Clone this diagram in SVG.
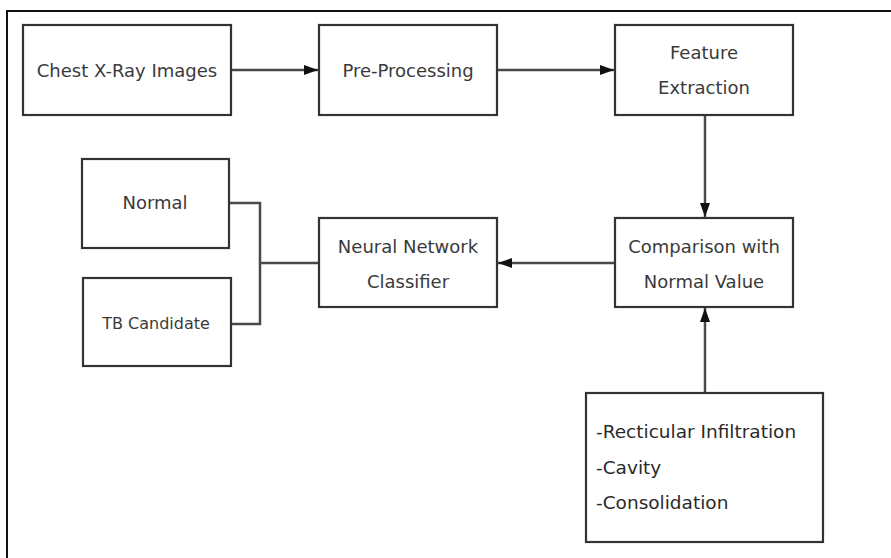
<svg xmlns="http://www.w3.org/2000/svg" width="891" height="558" viewBox="0 0 891 558">
<defs>
<style>
.box{fill:#fff;stroke:#333;stroke-width:2.2}
.t{font-family:"DejaVu Sans","Liberation Sans",sans-serif;font-size:18px;fill:#3a3a3a;text-anchor:middle}
.l{font-family:"DejaVu Sans","Liberation Sans",sans-serif;font-size:18.5px;fill:#2a2a2a}
.c{fill:none;stroke:#4a4a4a;stroke-width:2.5}
</style>
<marker id="ah" viewBox="0 0 14 12" refX="14" refY="6" markerWidth="14" markerHeight="12" markerUnits="userSpaceOnUse" orient="auto">
<path d="M0,1 L14,6 L0,11 z" fill="#111"/>
</marker>
</defs>
<rect width="891" height="558" fill="#fff"/>
<path d="M7,558 V11 H891" fill="none" stroke="#111" stroke-width="2"/>
<g id="connectors">
<path class="c" d="M231,70 H318" marker-end="url(#ah)"/>
<path class="c" d="M497,70 H614" marker-end="url(#ah)"/>
<path class="c" d="M705,115 V217" marker-end="url(#ah)"/>
<path class="c" d="M615,263 H498" marker-end="url(#ah)"/>
<path class="c" d="M705,393 V308" marker-end="url(#ah)"/>
<path class="c" d="M229,203 H260 V324 H231"/>
<path class="c" d="M260,263 H319"/>
</g>
<g id="chest">
<rect class="box" x="23" y="25" width="208" height="90"/>
<text class="t" x="127" y="77">Chest X-Ray Images</text>
</g>
<g id="preprocessing">
<rect class="box" x="319" y="25" width="178" height="90"/>
<text class="t" x="408" y="77">Pre-Processing</text>
</g>
<g id="feature">
<rect class="box" x="615" y="25" width="178" height="90"/>
<text class="t" x="704" y="59">Feature</text>
<text class="t" x="704" y="94">Extraction</text>
</g>
<g id="comparison">
<rect class="box" x="615" y="218" width="178" height="89"/>
<text class="t" x="704" y="253">Comparison with</text>
<text class="t" x="704" y="288">Normal Value</text>
</g>
<g id="classifier">
<rect class="box" x="319" y="218" width="178" height="89"/>
<text class="t" x="408" y="253">Neural Network</text>
<text class="t" x="408" y="288">Classifier</text>
</g>
<g id="normal">
<rect class="box" x="82" y="159" width="147" height="89"/>
<text class="t" x="155" y="209">Normal</text>
</g>
<g id="tb">
<rect class="box" x="83" y="278" width="148" height="88"/>
<text class="t" x="156" y="329" style="font-size:16px">TB Candidate</text>
</g>
<g id="features">
<rect class="box" x="586" y="393" width="237" height="149"/>
<text class="l" x="596" y="438">-Recticular Infiltration</text>
<text class="l" x="596" y="474">-Cavity</text>
<text class="l" x="596" y="509">-Consolidation</text>
</g>
</svg>
